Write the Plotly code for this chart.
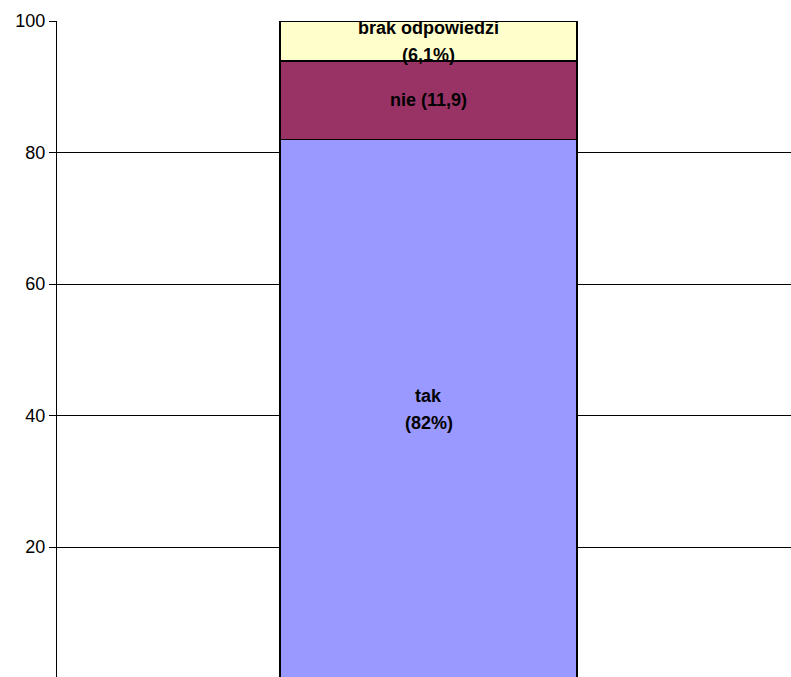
import plotly.graph_objects as go

series_names = ["tak", "nie", "brak odpowiedzi"]
series_values = [82.0, 11.9, 6.1]
series_label_lines = [["tak", "(82%)"], ["nie (11,9)"], ["brak odpowiedzi", "(6,1%)"]]
series_colors = ["#9999FF", "#993366", "#FFFFCC"]
tick_vals = [0, 20, 40, 60, 80, 100]

fig = go.Figure()

for name, val, color in zip(series_names, series_values, series_colors):
    fig.add_trace(go.Bar(
        x=[0], y=[val], name=name, width=0.4,
        marker=dict(color=color, line=dict(color="black", width=1.5)),
        hoverinfo="name+y",
    ))

# labels centred in each segment, one annotation per line
line_gap = 27
base = 0
for val, lines in zip(series_values, series_label_lines):
    n = len(lines)
    for i, txt in enumerate(lines):
        fig.add_annotation(
            x=0, y=base + val / 2, text=f"<b>{txt}</b>", showarrow=False,
            yshift=((n - 1) / 2 - i) * line_gap,
            font=dict(family="Liberation Sans, Arial", size=18, color="black"),
        )
    base += val

# the original chart is cropped on the right and bottom edges
fig.update_layout(
    barmode="stack",
    width=800, height=682,
    margin=dict(l=57, r=0, t=21, b=0),
    paper_bgcolor="white", plot_bgcolor="white",
    showlegend=False,
    font=dict(family="Liberation Sans, Arial", size=18, color="black"),
    xaxis=dict(range=[-0.5, 0.5], showticklabels=False, showgrid=False,
               zeroline=False, showline=False, fixedrange=True),
    yaxis=dict(range=[-0.5, 100], tickvals=tick_vals, showgrid=True,
               gridcolor="black", gridwidth=1, zeroline=False,
               showline=True, linecolor="black", linewidth=1,
               ticks="outside", ticklen=7, tickcolor="black",
               tickfont=dict(size=18)),
)

fig.write_html(
    "out.html",
    config={"displayModeBar": False},
    post_script="document.body.style.margin='0';document.body.style.overflow='hidden';",
)
